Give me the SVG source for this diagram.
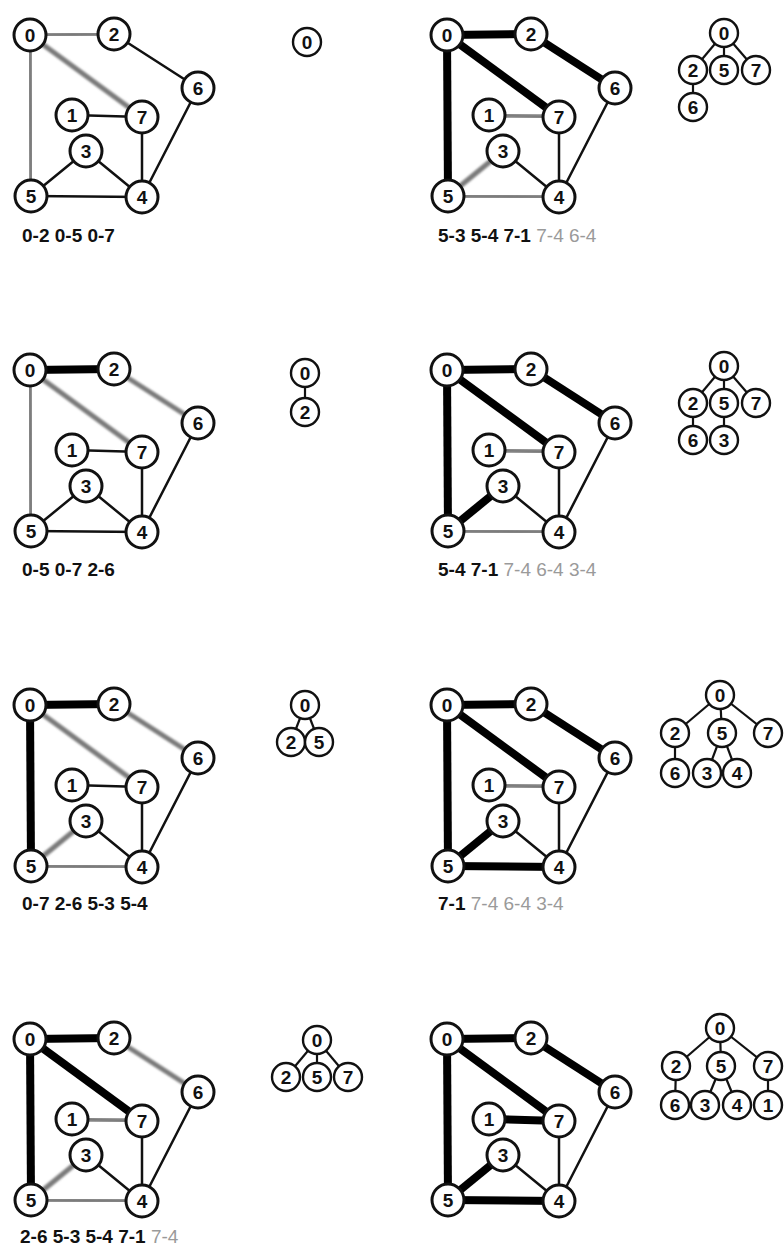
<svg xmlns="http://www.w3.org/2000/svg" width="784" height="1247" viewBox="0 0 784 1247">
<defs>
<filter id="soft" x="-20%" y="-20%" width="140%" height="140%"><feGaussianBlur stdDeviation="1"/></filter>
<style>
.e{stroke:#111;stroke-width:2.5;stroke-linecap:round;fill:none}
.t{stroke:#000;stroke-width:8;stroke-linecap:butt}
.g{stroke:#7a7a7a;stroke-width:5;filter:url(#soft)}
.n circle{fill:#fff;stroke:#111;stroke-width:3}
.n text{font-family:"Liberation Sans",Arial,sans-serif;font-weight:bold;font-size:19px;text-anchor:middle;fill:#111}
.tn circle{fill:#fff;stroke:#111;stroke-width:2.4}
.tn text{font-family:"Liberation Sans",Arial,sans-serif;font-weight:bold;font-size:19px;text-anchor:middle;fill:#111}
.te{stroke:#111;stroke-width:2.2}
.lbl{font-family:"Liberation Sans",Arial,sans-serif;font-weight:bold;font-size:19px;fill:#111}
.lbl .q{font-weight:normal;fill:#9a9a9a}
</style>
</defs>
<rect width="784" height="1247" fill="#fff"/>

<!-- Panel L1 -->
<g id="panel-L1" transform="translate(0,0)">
<g id="L1-connectors">
<line class="e g" x1="30" y1="35" x2="114" y2="34"/>
<line class="e g" x1="30" y1="35" x2="31" y2="196"/>
<line class="e g" x1="30" y1="35" x2="142" y2="117"/>
<line class="e" x1="114" y1="34" x2="198" y2="88"/>
<line class="e" x1="72" y1="115" x2="142" y2="117"/>
<line class="e" x1="142" y1="117" x2="142" y2="197"/>
<line class="e" x1="198" y1="88" x2="142" y2="197"/>
<line class="e" x1="31" y1="196" x2="86" y2="151"/>
<line class="e" x1="86" y1="151" x2="142" y2="197"/>
<line class="e" x1="31" y1="196" x2="142" y2="197"/>
</g>
<g id="L1-n0" class="n"><circle cx="30" cy="35" r="16"/><text x="30" y="42">0</text></g>
<g id="L1-n2" class="n"><circle cx="114" cy="34" r="16"/><text x="114" y="41">2</text></g>
<g id="L1-n6" class="n"><circle cx="198" cy="88" r="16"/><text x="198" y="95">6</text></g>
<g id="L1-n1" class="n"><circle cx="72" cy="115" r="16"/><text x="72" y="122">1</text></g>
<g id="L1-n7" class="n"><circle cx="142" cy="117" r="16"/><text x="142" y="124">7</text></g>
<g id="L1-n3" class="n"><circle cx="86" cy="151" r="16"/><text x="86" y="158">3</text></g>
<g id="L1-n5" class="n"><circle cx="31" cy="196" r="16"/><text x="31" y="203">5</text></g>
<g id="L1-n4" class="n"><circle cx="142" cy="197" r="16"/><text x="142" y="204">4</text></g>
<text class="lbl" x="22" y="242">0-2 0-5 0-7</text>
</g>

<!-- Panel L2 -->
<g id="panel-L2" transform="translate(0,335)">
<g id="L2-connectors">
<line class="e t" x1="30" y1="35" x2="114" y2="34"/>
<line class="e g" x1="30" y1="35" x2="31" y2="196"/>
<line class="e g" x1="30" y1="35" x2="142" y2="117"/>
<line class="e g" x1="114" y1="34" x2="198" y2="88"/>
<line class="e" x1="72" y1="115" x2="142" y2="117"/>
<line class="e" x1="142" y1="117" x2="142" y2="197"/>
<line class="e" x1="198" y1="88" x2="142" y2="197"/>
<line class="e" x1="31" y1="196" x2="86" y2="151"/>
<line class="e" x1="86" y1="151" x2="142" y2="197"/>
<line class="e" x1="31" y1="196" x2="142" y2="197"/>
</g>
<g id="L2-n0" class="n"><circle cx="30" cy="35" r="16"/><text x="30" y="42">0</text></g>
<g id="L2-n2" class="n"><circle cx="114" cy="34" r="16"/><text x="114" y="41">2</text></g>
<g id="L2-n6" class="n"><circle cx="198" cy="88" r="16"/><text x="198" y="95">6</text></g>
<g id="L2-n1" class="n"><circle cx="72" cy="115" r="16"/><text x="72" y="122">1</text></g>
<g id="L2-n7" class="n"><circle cx="142" cy="117" r="16"/><text x="142" y="124">7</text></g>
<g id="L2-n3" class="n"><circle cx="86" cy="151" r="16"/><text x="86" y="158">3</text></g>
<g id="L2-n5" class="n"><circle cx="31" cy="196" r="16"/><text x="31" y="203">5</text></g>
<g id="L2-n4" class="n"><circle cx="142" cy="197" r="16"/><text x="142" y="204">4</text></g>
<text class="lbl" x="22" y="241">0-5 0-7 2-6</text>
</g>

<!-- Panel L3 -->
<g id="panel-L3" transform="translate(0,670)">
<g id="L3-connectors">
<line class="e t" x1="30" y1="35" x2="114" y2="34"/>
<line class="e t" x1="30" y1="35" x2="31" y2="196"/>
<line class="e g" x1="30" y1="35" x2="142" y2="117"/>
<line class="e g" x1="114" y1="34" x2="198" y2="88"/>
<line class="e" x1="72" y1="115" x2="142" y2="117"/>
<line class="e" x1="142" y1="117" x2="142" y2="197"/>
<line class="e" x1="198" y1="88" x2="142" y2="197"/>
<line class="e g" x1="31" y1="196" x2="86" y2="151"/>
<line class="e" x1="86" y1="151" x2="142" y2="197"/>
<line class="e g" x1="31" y1="196" x2="142" y2="197"/>
</g>
<g id="L3-n0" class="n"><circle cx="30" cy="35" r="16"/><text x="30" y="42">0</text></g>
<g id="L3-n2" class="n"><circle cx="114" cy="34" r="16"/><text x="114" y="41">2</text></g>
<g id="L3-n6" class="n"><circle cx="198" cy="88" r="16"/><text x="198" y="95">6</text></g>
<g id="L3-n1" class="n"><circle cx="72" cy="115" r="16"/><text x="72" y="122">1</text></g>
<g id="L3-n7" class="n"><circle cx="142" cy="117" r="16"/><text x="142" y="124">7</text></g>
<g id="L3-n3" class="n"><circle cx="86" cy="151" r="16"/><text x="86" y="158">3</text></g>
<g id="L3-n5" class="n"><circle cx="31" cy="196" r="16"/><text x="31" y="203">5</text></g>
<g id="L3-n4" class="n"><circle cx="142" cy="197" r="16"/><text x="142" y="204">4</text></g>
<text class="lbl" x="22" y="240">0-7 2-6 5-3 5-4</text>
</g>

<!-- Panel L4 -->
<g id="panel-L4" transform="translate(0,1004)">
<g id="L4-connectors">
<line class="e t" x1="30" y1="35" x2="114" y2="34"/>
<line class="e t" x1="30" y1="35" x2="31" y2="196"/>
<line class="e t" x1="30" y1="35" x2="142" y2="117"/>
<line class="e g" x1="114" y1="34" x2="198" y2="88"/>
<line class="e g" x1="72" y1="115" x2="142" y2="117"/>
<line class="e" x1="142" y1="117" x2="142" y2="197"/>
<line class="e" x1="198" y1="88" x2="142" y2="197"/>
<line class="e g" x1="31" y1="196" x2="86" y2="151"/>
<line class="e" x1="86" y1="151" x2="142" y2="197"/>
<line class="e g" x1="31" y1="196" x2="142" y2="197"/>
</g>
<g id="L4-n0" class="n"><circle cx="30" cy="35" r="16"/><text x="30" y="42">0</text></g>
<g id="L4-n2" class="n"><circle cx="114" cy="34" r="16"/><text x="114" y="41">2</text></g>
<g id="L4-n6" class="n"><circle cx="198" cy="88" r="16"/><text x="198" y="95">6</text></g>
<g id="L4-n1" class="n"><circle cx="72" cy="115" r="16"/><text x="72" y="122">1</text></g>
<g id="L4-n7" class="n"><circle cx="142" cy="117" r="16"/><text x="142" y="124">7</text></g>
<g id="L4-n3" class="n"><circle cx="86" cy="151" r="16"/><text x="86" y="158">3</text></g>
<g id="L4-n5" class="n"><circle cx="31" cy="196" r="16"/><text x="31" y="203">5</text></g>
<g id="L4-n4" class="n"><circle cx="142" cy="197" r="16"/><text x="142" y="204">4</text></g>
<text class="lbl" x="20" y="239">2-6 5-3 5-4 7-1 <tspan class="q">7-4</tspan></text>
</g>

<!-- Panel R1 -->
<g id="panel-R1" transform="translate(417,0)">
<g id="R1-connectors">
<line class="e t" x1="30" y1="35" x2="114" y2="34"/>
<line class="e t" x1="30" y1="35" x2="31" y2="196"/>
<line class="e t" x1="30" y1="35" x2="142" y2="117"/>
<line class="e t" x1="114" y1="34" x2="198" y2="88"/>
<line class="e g" x1="72" y1="115" x2="142" y2="117"/>
<line class="e" x1="142" y1="117" x2="142" y2="197"/>
<line class="e" x1="198" y1="88" x2="142" y2="197"/>
<line class="e g" x1="31" y1="196" x2="86" y2="151"/>
<line class="e" x1="86" y1="151" x2="142" y2="197"/>
<line class="e g" x1="31" y1="196" x2="142" y2="197"/>
</g>
<g id="R1-n0" class="n"><circle cx="30" cy="35" r="16"/><text x="30" y="42">0</text></g>
<g id="R1-n2" class="n"><circle cx="114" cy="34" r="16"/><text x="114" y="41">2</text></g>
<g id="R1-n6" class="n"><circle cx="198" cy="88" r="16"/><text x="198" y="95">6</text></g>
<g id="R1-n1" class="n"><circle cx="72" cy="115" r="16"/><text x="72" y="122">1</text></g>
<g id="R1-n7" class="n"><circle cx="142" cy="117" r="16"/><text x="142" y="124">7</text></g>
<g id="R1-n3" class="n"><circle cx="86" cy="151" r="16"/><text x="86" y="158">3</text></g>
<g id="R1-n5" class="n"><circle cx="31" cy="196" r="16"/><text x="31" y="203">5</text></g>
<g id="R1-n4" class="n"><circle cx="142" cy="197" r="16"/><text x="142" y="204">4</text></g>
<text class="lbl" x="21" y="242">5-3 5-4 7-1 <tspan class="q">7-4 6-4</tspan></text>
</g>

<!-- Panel R2 -->
<g id="panel-R2" transform="translate(417,335)">
<g id="R2-connectors">
<line class="e t" x1="30" y1="35" x2="114" y2="34"/>
<line class="e t" x1="30" y1="35" x2="31" y2="196"/>
<line class="e t" x1="30" y1="35" x2="142" y2="117"/>
<line class="e t" x1="114" y1="34" x2="198" y2="88"/>
<line class="e g" x1="72" y1="115" x2="142" y2="117"/>
<line class="e" x1="142" y1="117" x2="142" y2="197"/>
<line class="e" x1="198" y1="88" x2="142" y2="197"/>
<line class="e t" x1="31" y1="196" x2="86" y2="151"/>
<line class="e" x1="86" y1="151" x2="142" y2="197"/>
<line class="e g" x1="31" y1="196" x2="142" y2="197"/>
</g>
<g id="R2-n0" class="n"><circle cx="30" cy="35" r="16"/><text x="30" y="42">0</text></g>
<g id="R2-n2" class="n"><circle cx="114" cy="34" r="16"/><text x="114" y="41">2</text></g>
<g id="R2-n6" class="n"><circle cx="198" cy="88" r="16"/><text x="198" y="95">6</text></g>
<g id="R2-n1" class="n"><circle cx="72" cy="115" r="16"/><text x="72" y="122">1</text></g>
<g id="R2-n7" class="n"><circle cx="142" cy="117" r="16"/><text x="142" y="124">7</text></g>
<g id="R2-n3" class="n"><circle cx="86" cy="151" r="16"/><text x="86" y="158">3</text></g>
<g id="R2-n5" class="n"><circle cx="31" cy="196" r="16"/><text x="31" y="203">5</text></g>
<g id="R2-n4" class="n"><circle cx="142" cy="197" r="16"/><text x="142" y="204">4</text></g>
<text class="lbl" x="21" y="241">5-4 7-1 <tspan class="q">7-4 6-4 3-4</tspan></text>
</g>

<!-- Panel R3 -->
<g id="panel-R3" transform="translate(417,670)">
<g id="R3-connectors">
<line class="e t" x1="30" y1="35" x2="114" y2="34"/>
<line class="e t" x1="30" y1="35" x2="31" y2="196"/>
<line class="e t" x1="30" y1="35" x2="142" y2="117"/>
<line class="e t" x1="114" y1="34" x2="198" y2="88"/>
<line class="e g" x1="72" y1="115" x2="142" y2="117"/>
<line class="e" x1="142" y1="117" x2="142" y2="197"/>
<line class="e" x1="198" y1="88" x2="142" y2="197"/>
<line class="e t" x1="31" y1="196" x2="86" y2="151"/>
<line class="e" x1="86" y1="151" x2="142" y2="197"/>
<line class="e t" x1="31" y1="196" x2="142" y2="197"/>
</g>
<g id="R3-n0" class="n"><circle cx="30" cy="35" r="16"/><text x="30" y="42">0</text></g>
<g id="R3-n2" class="n"><circle cx="114" cy="34" r="16"/><text x="114" y="41">2</text></g>
<g id="R3-n6" class="n"><circle cx="198" cy="88" r="16"/><text x="198" y="95">6</text></g>
<g id="R3-n1" class="n"><circle cx="72" cy="115" r="16"/><text x="72" y="122">1</text></g>
<g id="R3-n7" class="n"><circle cx="142" cy="117" r="16"/><text x="142" y="124">7</text></g>
<g id="R3-n3" class="n"><circle cx="86" cy="151" r="16"/><text x="86" y="158">3</text></g>
<g id="R3-n5" class="n"><circle cx="31" cy="196" r="16"/><text x="31" y="203">5</text></g>
<g id="R3-n4" class="n"><circle cx="142" cy="197" r="16"/><text x="142" y="204">4</text></g>
<text class="lbl" x="21" y="240">7-1 <tspan class="q">7-4 6-4 3-4</tspan></text>
</g>

<!-- Panel R4 -->
<g id="panel-R4" transform="translate(417,1004)">
<g id="R4-connectors">
<line class="e t" x1="30" y1="35" x2="114" y2="34"/>
<line class="e t" x1="30" y1="35" x2="31" y2="196"/>
<line class="e t" x1="30" y1="35" x2="142" y2="117"/>
<line class="e t" x1="114" y1="34" x2="198" y2="88"/>
<line class="e t" x1="72" y1="115" x2="142" y2="117"/>
<line class="e" x1="142" y1="117" x2="142" y2="197"/>
<line class="e" x1="198" y1="88" x2="142" y2="197"/>
<line class="e t" x1="31" y1="196" x2="86" y2="151"/>
<line class="e" x1="86" y1="151" x2="142" y2="197"/>
<line class="e t" x1="31" y1="196" x2="142" y2="197"/>
</g>
<g id="R4-n0" class="n"><circle cx="30" cy="35" r="16"/><text x="30" y="42">0</text></g>
<g id="R4-n2" class="n"><circle cx="114" cy="34" r="16"/><text x="114" y="41">2</text></g>
<g id="R4-n6" class="n"><circle cx="198" cy="88" r="16"/><text x="198" y="95">6</text></g>
<g id="R4-n1" class="n"><circle cx="72" cy="115" r="16"/><text x="72" y="122">1</text></g>
<g id="R4-n7" class="n"><circle cx="142" cy="117" r="16"/><text x="142" y="124">7</text></g>
<g id="R4-n3" class="n"><circle cx="86" cy="151" r="16"/><text x="86" y="158">3</text></g>
<g id="R4-n5" class="n"><circle cx="31" cy="196" r="16"/><text x="31" y="203">5</text></g>
<g id="R4-n4" class="n"><circle cx="142" cy="197" r="16"/><text x="142" y="204">4</text></g>
</g>

<!-- Tree L1 -->
<g id="tree-L1">
<g id="tL1-n0" class="tn"><circle cx="307" cy="42" r="14"/><text x="307" y="49">0</text></g>
</g>

<!-- Tree L2 -->
<g id="tree-L2">
<g id="tL2-connectors"><line class="te" x1="305" y1="373" x2="305" y2="412"/></g>
<g id="tL2-n0" class="tn"><circle cx="305" cy="373" r="14"/><text x="305" y="380">0</text></g>
<g id="tL2-n2" class="tn"><circle cx="305" cy="412" r="14"/><text x="305" y="419">2</text></g>
</g>

<!-- Tree L3 -->
<g id="tree-L3">
<g id="tL3-connectors">
<line class="te" x1="305" y1="705" x2="291" y2="742"/>
<line class="te" x1="305" y1="705" x2="319" y2="742"/>
</g>
<g id="tL3-n0" class="tn"><circle cx="305" cy="705" r="14"/><text x="305" y="712">0</text></g>
<g id="tL3-n2" class="tn"><circle cx="291" cy="742" r="14"/><text x="291" y="749">2</text></g>
<g id="tL3-n5" class="tn"><circle cx="319" cy="742" r="14"/><text x="319" y="749">5</text></g>
</g>

<!-- Tree L4 -->
<g id="tree-L4">
<g id="tL4-connectors">
<line class="te" x1="317" y1="1040" x2="286" y2="1077"/>
<line class="te" x1="317" y1="1040" x2="317" y2="1077"/>
<line class="te" x1="317" y1="1040" x2="348" y2="1077"/>
</g>
<g id="tL4-n0" class="tn"><circle cx="317" cy="1040" r="14"/><text x="317" y="1047">0</text></g>
<g id="tL4-n2" class="tn"><circle cx="286" cy="1077" r="14"/><text x="286" y="1084">2</text></g>
<g id="tL4-n5" class="tn"><circle cx="317" cy="1077" r="14"/><text x="317" y="1084">5</text></g>
<g id="tL4-n7" class="tn"><circle cx="348" cy="1077" r="14"/><text x="348" y="1084">7</text></g>
</g>

<!-- Tree R1 -->
<g id="tree-R1">
<g id="tR1-connectors">
<line class="te" x1="724" y1="33" x2="693" y2="70"/>
<line class="te" x1="724" y1="33" x2="724" y2="70"/>
<line class="te" x1="724" y1="33" x2="756" y2="70"/>
<line class="te" x1="693" y1="70" x2="693" y2="107"/>
</g>
<g id="tR1-n0" class="tn"><circle cx="724" cy="33" r="14"/><text x="724" y="40">0</text></g>
<g id="tR1-n2" class="tn"><circle cx="693" cy="70" r="14"/><text x="693" y="77">2</text></g>
<g id="tR1-n5" class="tn"><circle cx="724" cy="70" r="14"/><text x="724" y="77">5</text></g>
<g id="tR1-n7" class="tn"><circle cx="756" cy="70" r="14"/><text x="756" y="77">7</text></g>
<g id="tR1-n6" class="tn"><circle cx="693" cy="107" r="14"/><text x="693" y="114">6</text></g>
</g>

<!-- Tree R2 -->
<g id="tree-R2">
<g id="tR2-connectors">
<line class="te" x1="724" y1="366" x2="693" y2="403"/>
<line class="te" x1="724" y1="366" x2="724" y2="403"/>
<line class="te" x1="724" y1="366" x2="756" y2="403"/>
<line class="te" x1="693" y1="403" x2="693" y2="440"/>
<line class="te" x1="724" y1="403" x2="724" y2="440"/>
</g>
<g id="tR2-n0" class="tn"><circle cx="724" cy="366" r="14"/><text x="724" y="373">0</text></g>
<g id="tR2-n2" class="tn"><circle cx="693" cy="403" r="14"/><text x="693" y="410">2</text></g>
<g id="tR2-n5" class="tn"><circle cx="724" cy="403" r="14"/><text x="724" y="410">5</text></g>
<g id="tR2-n7" class="tn"><circle cx="756" cy="403" r="14"/><text x="756" y="410">7</text></g>
<g id="tR2-n6" class="tn"><circle cx="693" cy="440" r="14"/><text x="693" y="447">6</text></g>
<g id="tR2-n3" class="tn"><circle cx="724" cy="440" r="14"/><text x="724" y="447">3</text></g>
</g>

<!-- Tree R3 -->
<g id="tree-R3">
<g id="tR3-connectors">
<line class="te" x1="720" y1="695" x2="675" y2="733"/>
<line class="te" x1="720" y1="695" x2="722" y2="733"/>
<line class="te" x1="720" y1="695" x2="768" y2="733"/>
<line class="te" x1="675" y1="733" x2="675" y2="773"/>
<line class="te" x1="722" y1="733" x2="707" y2="773"/>
<line class="te" x1="722" y1="733" x2="737" y2="773"/>
</g>
<g id="tR3-n0" class="tn"><circle cx="720" cy="695" r="14"/><text x="720" y="702">0</text></g>
<g id="tR3-n2" class="tn"><circle cx="675" cy="733" r="14"/><text x="675" y="740">2</text></g>
<g id="tR3-n5" class="tn"><circle cx="722" cy="733" r="14"/><text x="722" y="740">5</text></g>
<g id="tR3-n7" class="tn"><circle cx="768" cy="733" r="14"/><text x="768" y="740">7</text></g>
<g id="tR3-n6" class="tn"><circle cx="675" cy="773" r="14"/><text x="675" y="780">6</text></g>
<g id="tR3-n3" class="tn"><circle cx="707" cy="773" r="14"/><text x="707" y="780">3</text></g>
<g id="tR3-n4" class="tn"><circle cx="737" cy="773" r="14"/><text x="737" y="780">4</text></g>
</g>

<!-- Tree R4 -->
<g id="tree-R4">
<g id="tR4-connectors">
<line class="te" x1="720" y1="1028" x2="676" y2="1066"/>
<line class="te" x1="720" y1="1028" x2="721" y2="1066"/>
<line class="te" x1="720" y1="1028" x2="768" y2="1066"/>
<line class="te" x1="676" y1="1066" x2="675" y2="1105"/>
<line class="te" x1="721" y1="1066" x2="705" y2="1105"/>
<line class="te" x1="721" y1="1066" x2="737" y2="1105"/>
<line class="te" x1="768" y1="1066" x2="768" y2="1105"/>
</g>
<g id="tR4-n0" class="tn"><circle cx="720" cy="1028" r="14"/><text x="720" y="1035">0</text></g>
<g id="tR4-n2" class="tn"><circle cx="676" cy="1066" r="14"/><text x="676" y="1073">2</text></g>
<g id="tR4-n5" class="tn"><circle cx="721" cy="1066" r="14"/><text x="721" y="1073">5</text></g>
<g id="tR4-n7" class="tn"><circle cx="768" cy="1066" r="14"/><text x="768" y="1073">7</text></g>
<g id="tR4-n6" class="tn"><circle cx="675" cy="1105" r="14"/><text x="675" y="1112">6</text></g>
<g id="tR4-n3" class="tn"><circle cx="705" cy="1105" r="14"/><text x="705" y="1112">3</text></g>
<g id="tR4-n4" class="tn"><circle cx="737" cy="1105" r="14"/><text x="737" y="1112">4</text></g>
<g id="tR4-n1" class="tn"><circle cx="768" cy="1105" r="14"/><text x="768" y="1112">1</text></g>
</g>
</svg>
